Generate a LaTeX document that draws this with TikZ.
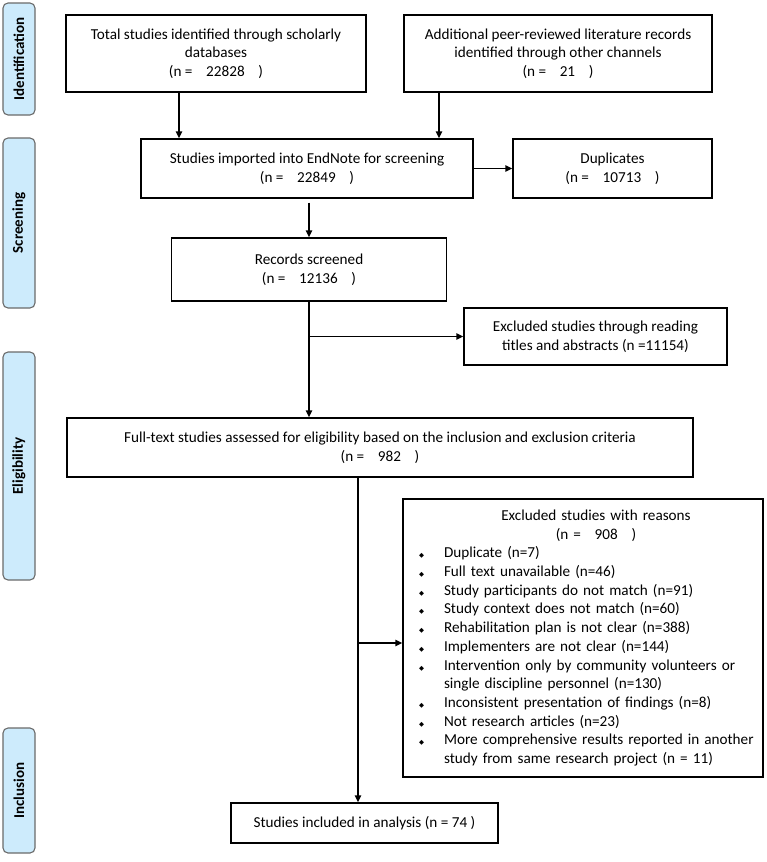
\documentclass[tikz,border=0pt]{standalone}
\usepackage{fontspec}
\setmainfont{Carlito}
\newfontfamily\symfont{DejaVu Sans}
\usetikzlibrary{arrows.meta}
\definecolor{sideblue}{HTML}{CDEBFC}
\definecolor{sidegray}{HTML}{6A6A6A}
\newcommand{\gp}{\hspace{0.9em}}
\newcommand{\bl}{{\symfont\fontsize{6.5}{6.5}\selectfont ◆}}
\newcommand{\bitem}[1]{\hspace*{16pt}\makebox[25pt][l]{\bl}#1}
\newcommand{\bcont}[1]{\hspace*{41pt}#1}
\begin{document}
\begin{tikzpicture}[x=1pt,y=-1pt,
  box/.style={draw=black, line width=1.4pt, align=center, inner sep=2pt,
    font=\fontsize{15.2}{18.7}\selectfont},
  side/.style={draw=sidegray, line width=1.1pt, fill=sideblue, rounded corners=5pt,
    rotate=90, minimum height=32pt, inner sep=0pt, font=\bfseries\fontsize{15}{17}\selectfont},
  arr/.style={line width=1.4pt, -{Triangle[length=7pt,width=6.5pt]}}]
\useasboundingbox (0,0) rectangle (766,862);

% side labels
\node[side, minimum width=112pt] (sid) at (19,59) {Identification};
\node[side, minimum width=170pt] (ssc) at (19,223) {Screening};
\node[side, minimum width=228pt] (sel) at (19,466) {Eligibility};
\node[side, minimum width=125pt] (sin) at (19,790.5) {Inclusion};

% boxes
\node[box, minimum width=300pt, minimum height=77pt] (b1) at (216,53.5)
  {Total studies identified through scholarly\\databases\\(n =\gp 22828\gp)};
\node[box, minimum width=308pt, minimum height=77pt] (b2) at (558,53.5)
  {Additional peer-reviewed literature records\\identified through other channels\\(n =\gp 21\gp)};
\node[box, minimum width=332pt, minimum height=59pt] (b3) at (307,168.5)
  {Studies imported into EndNote for screening\\(n =\gp 22849\gp)};
\node[box, minimum width=199pt, minimum height=59pt] (dup) at (612.5,168.5)
  {Duplicates\\(n =\gp 10713\gp)};
\node[box, minimum width=275pt, minimum height=63pt] (rec) at (309,269.5)
  {Records screened\\(n =\gp 12136\gp)};
\node[box, minimum width=263pt, minimum height=57pt] (ex1) at (595.5,336.5)
  {Excluded studies through reading\\titles and abstracts (n =11154)};
\node[box, minimum width=626pt, minimum height=59pt] (full) at (380,447.5)
  {Full-text studies assessed for eligibility based on the inclusion and exclusion criteria\\(n =\gp 982\gp)};
\node[box, minimum width=360pt, minimum height=278pt, text width=360pt, inner xsep=0pt, align=left] (ex2) at (583,638)
  {\makebox[360pt][c]{\hspace{26pt}Excluded studies with reasons}\\
   \makebox[360pt][c]{\hspace{26pt}(n =\gp 908\gp)}\\
   \bitem{Duplicate (n=7)}\\
   \bitem{Full text unavailable (n=46)}\\
   \bitem{Study participants do not match (n=91)}\\
   \bitem{Study context does not match (n=60)}\\
   \bitem{Rehabilitation plan is not clear (n=388)}\\
   \bitem{Implementers are not clear (n=144)}\\
   \bitem{Intervention only by community volunteers or}\\
   \bcont{single discipline personnel (n=130)}\\
   \bitem{Inconsistent presentation of findings (n=8)}\\
   \bitem{Not research articles (n=23)}\\
   \bitem{More comprehensive results reported in another}\\
   \bcont{study from same research project (n = 11)}};
\node[box, minimum width=267pt, minimum height=40pt] (inc) at (364.5,823)
  {Studies included in analysis (n = 74 )};

% connectors
\coordinate (xa) at (179,0);
\coordinate (xb) at (439,0);
\coordinate (xd) at (309,0);
\coordinate (xc) at (358,0);
\coordinate (yc) at (0,643);
\draw[arr] (xa |- b1.south) -- (xa |- b3.north);
\draw[arr] (xb |- b2.south) -- (xb |- b3.north);
\draw[arr] (b3.east) -- (dup.west);
\draw[arr] ([yshift=-4pt]xd |- b3.south) -- (xd |- rec.north);
\draw[arr] (xd |- rec.south) -- (xd |- full.north);
\draw[arr] (xd |- ex1.west) -- (ex1.west);
\draw[arr] (xc |- full.south) -- (xc |- inc.north);
\draw[arr] (xc |- yc) -- (ex2.west |- yc);
\end{tikzpicture}
\end{document}
